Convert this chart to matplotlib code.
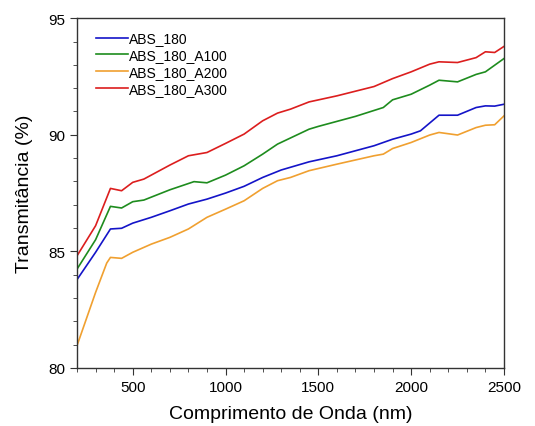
import matplotlib
matplotlib.use("Agg")
import matplotlib.pyplot as plt
from matplotlib.ticker import MultipleLocator

plt.rcParams['font.family'] = ['Liberation Sans', 'DejaVu Sans']

# Data
x_red = [200, 300, 380, 440, 500, 560, 700, 800, 900, 1000, 1100, 1200, 1280, 1350, 1450, 1600, 1800, 1900, 2000, 2100, 2150, 2250, 2350, 2400, 2450, 2500]
y_red = [84.81, 86.1, 87.7, 87.6, 87.96, 88.1, 88.7, 89.1, 89.24, 89.63, 90.03, 90.6, 90.93, 91.1, 91.41, 91.67, 92.07, 92.41, 92.7, 93.03, 93.13, 93.1, 93.31, 93.56, 93.53, 93.79]

x_green = [200, 300, 380, 440, 500, 560, 700, 830, 900, 1000, 1100, 1200, 1280, 1450, 1500, 1700, 1850, 1900, 2000, 2100, 2150, 2250, 2350, 2400, 2500]
y_green = [84.24, 85.5, 86.93, 86.86, 87.13, 87.2, 87.64, 87.99, 87.94, 88.27, 88.67, 89.17, 89.6, 90.24, 90.36, 90.79, 91.17, 91.5, 91.74, 92.13, 92.34, 92.27, 92.59, 92.7, 93.27]

x_blue = [200, 300, 380, 440, 500, 600, 700, 800, 900, 1000, 1100, 1200, 1300, 1450, 1600, 1800, 1900, 2000, 2050, 2150, 2250, 2350, 2400, 2450, 2500]
y_blue = [83.79, 84.96, 85.96, 85.99, 86.21, 86.46, 86.74, 87.03, 87.24, 87.5, 87.79, 88.17, 88.49, 88.84, 89.1, 89.53, 89.81, 90.03, 90.17, 90.84, 90.84, 91.17, 91.24, 91.23, 91.31]

x_orange = [200, 250, 300, 360, 380, 440, 500, 600, 700, 800, 900, 1000, 1100, 1200, 1280, 1350, 1450, 1600, 1800, 1850, 1900, 2000, 2100, 2150, 2250, 2350, 2400, 2450, 2500]
y_orange = [80.96, 82.1, 83.24, 84.5, 84.74, 84.7, 84.96, 85.31, 85.6, 85.96, 86.46, 86.81, 87.17, 87.7, 88.03, 88.17, 88.46, 88.74, 89.1, 89.17, 89.41, 89.67, 89.99, 90.1, 89.99, 90.31, 90.41, 90.43, 90.81]

labels = ['ABS_180', 'ABS_180_A100', 'ABS_180_A200', 'ABS_180_A300']
colors = ['#1414c8', '#1e8c1e', '#f0a030', '#dc1e1e']

fig = plt.figure(figsize=(5.35, 4.27), dpi=100)
ax = fig.add_axes([0.144, 0.136, 0.798, 0.819])

series = [(x_blue, y_blue), (x_green, y_green), (x_orange, y_orange), (x_red, y_red)]
for (xs, ys), lab, c in zip(series, labels, colors):
    ax.plot(xs, ys, color=c, lw=1.2, label=lab)

ax.set_xlim(200, 2500)
ax.set_ylim(80, 95)
ax.xaxis.set_major_locator(MultipleLocator(500))
ax.xaxis.set_minor_locator(MultipleLocator(100))
ax.yaxis.set_major_locator(MultipleLocator(5))
ax.yaxis.set_minor_locator(MultipleLocator(1))
ax.tick_params(which='both', direction='out', top=False, right=False, labelsize=11, color='#333333')
ax.tick_params(which='major', length=5)
ax.tick_params(which='minor', length=3)
for s in ax.spines.values():
    s.set_color('#333333')
    s.set_linewidth(1.0)

ax.set_xlabel('Comprimento de Onda (nm)', fontsize=14, labelpad=8)
ax.set_ylabel('Transmitância (%)', fontsize=14, labelpad=11)

leg = ax.legend(loc='upper left', bbox_to_anchor=(0.015, 0.998), frameon=False, fontsize=10,
                handlelength=2.3, handletextpad=0.05, labelspacing=0.2)

fig.savefig('out.png', dpi=100)
